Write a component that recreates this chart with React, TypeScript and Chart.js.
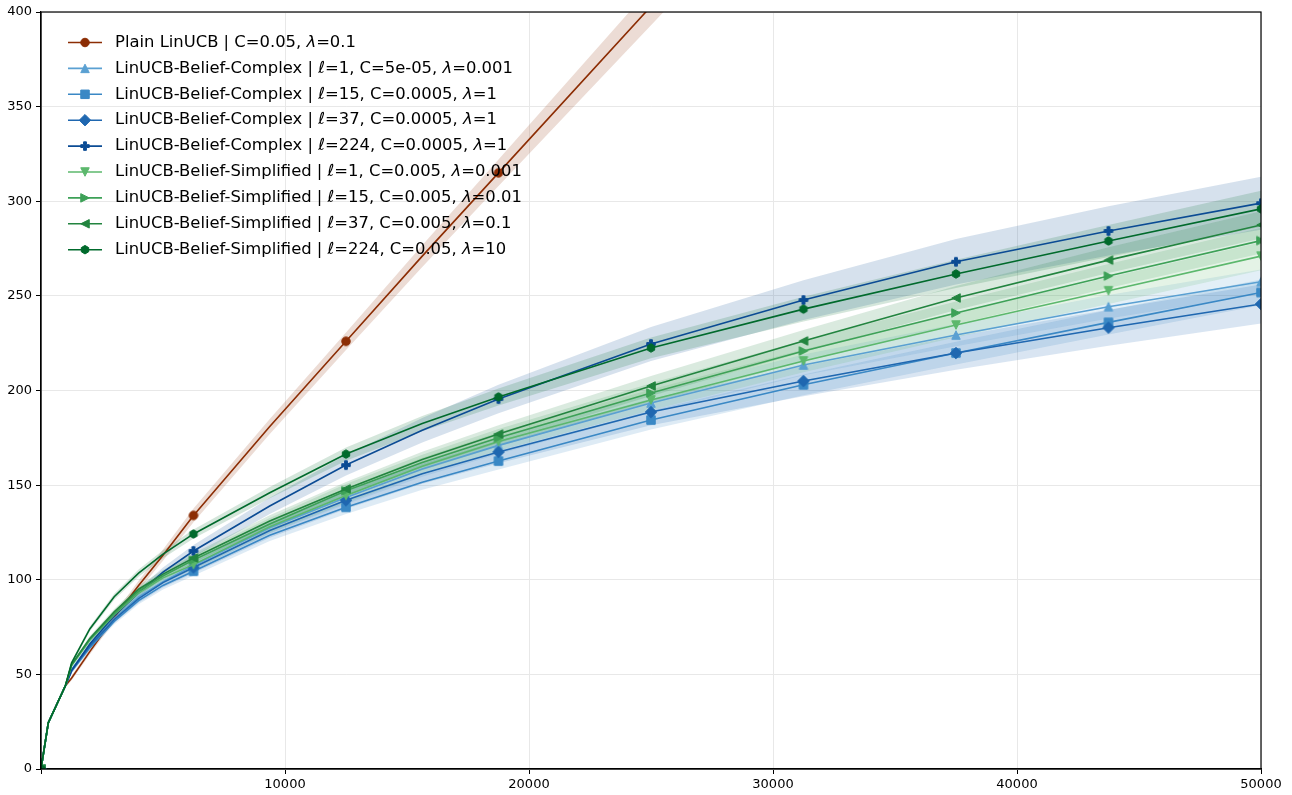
import React, { useEffect, useRef } from 'react';
import { Chart, registerables } from 'chart.js';

Chart.register(...registerables);

// ---------- data ----------
const X = [0, 300, 1000, 1250, 2000, 3000, 4000, 5000, 6250, 9375, 12500, 15625, 18750, 25000, 31250, 37500, 43750, 50000];
const MARK_X = [0, 6250, 12500, 18750, 25000, 31250, 37500, 43750, 50000];
const X_STEP = 10000;
const Y_STEP = 50;

const LABELS = [
  'Plain LinUCB | C=0.05, λ=0.1',
  'LinUCB-Belief-Complex | ℓ=1, C=5e-05, λ=0.001',
  'LinUCB-Belief-Complex | ℓ=15, C=0.0005, λ=1',
  'LinUCB-Belief-Complex | ℓ=37, C=0.0005, λ=1',
  'LinUCB-Belief-Complex | ℓ=224, C=0.0005, λ=1',
  'LinUCB-Belief-Simplified | ℓ=1, C=0.005, λ=0.001',
  'LinUCB-Belief-Simplified | ℓ=15, C=0.005, λ=0.01',
  'LinUCB-Belief-Simplified | ℓ=37, C=0.005, λ=0.1',
  'LinUCB-Belief-Simplified | ℓ=224, C=0.05, λ=10',
];

const plain = [0, 24.5, 44, 48, 62, 80, 97, 113, 134, 181, 226, 271, 315, 403, 490, 576, 661, 746];
const complex1 = [0, 24.5, 44, 52.5, 65.5, 79.5, 91, 99, 107.5, 127.5, 143.5, 158.5, 171, 193.4, 213.5, 229.3, 244.3, 257.5];
const complex15 = [0, 24.5, 44, 51.5, 64, 78, 89, 97, 104.5, 123.5, 138.3, 151.5, 162.7, 184.4, 203, 219.8, 236, 251.8];
const complex37 = [0, 24.5, 44, 52, 65, 79, 90, 98.5, 106.5, 126, 142, 156, 167.5, 188.6, 205, 219.8, 233.2, 245.7];
const complex224 = [0, 24.5, 44, 52, 66, 81, 93, 104, 115.2, 139, 160.6, 179, 195.5, 224.6, 247.8, 268, 284.3, 299];
const simp1 = [0, 24.5, 44, 54.5, 68, 81.5, 93, 101, 108, 128, 144.5, 160, 173, 195, 215.6, 234.6, 252.7, 271];
const simp15 = [0, 24.5, 44, 55, 68.5, 82, 94, 102, 110.4, 129.5, 147, 162, 175, 198.7, 220.9, 241, 260.5, 279.2];
const simp37 = [0, 24.5, 44, 55, 69, 83, 95, 103, 111.5, 131, 148, 163.5, 177, 202.4, 226.2, 248.9, 268.9, 287.5];
const simp224 = [0, 24.5, 44, 56, 74, 91, 103.5, 113.5, 124.2, 146, 166.4, 182.5, 196.6, 222.5, 243, 261.6, 279, 296];

const plainStd = [0, 0.5, 1, 1.2, 1.5, 2, 2.5, 3, 3.6, 4, 4.6, 5.8, 7, 10, 12, 14, 16, 18];
const complex1Std = [0, 0.3, 0.8, 1, 1.3, 1.6, 1.9, 2.2, 2.5, 3.1, 3.6, 4.1, 4.6, 5.1, 5.5, 5.9, 6.2, 6.5];
const complex15Std = [0, 0.3, 0.8, 1, 1.3, 1.6, 1.9, 2.1, 2.4, 3, 3.5, 4, 4.5, 5, 5.5, 6, 6.4, 6.8];
const complex37Std = [0, 0.3, 0.8, 1, 1.4, 1.8, 2.2, 2.6, 3, 3.8, 4.6, 5.3, 6, 7, 8, 8.8, 9.5, 10.3];
const complex224Std = [0, 0.3, 0.8, 1, 1.3, 1.7, 2.1, 2.5, 3.2, 4.3, 5.5, 6.5, 7.5, 9, 10.5, 12, 13, 14];
const simp1Std = [0, 0.3, 0.8, 1, 1.3, 1.7, 2, 2.3, 2.6, 3.3, 3.9, 4.4, 4.9, 5.5, 6, 6.5, 7, 7.4];
const simp15Std = [0, 0.3, 0.8, 1, 1.3, 1.6, 1.9, 2.2, 2.5, 3.1, 3.6, 4.1, 4.6, 5.1, 5.6, 6, 6.4, 6.8];
const simp37Std = [0, 0.3, 0.8, 1, 1.3, 1.6, 1.9, 2.2, 2.5, 3.1, 3.7, 4.2, 4.7, 5.3, 5.8, 6.3, 6.8, 7.2];
const simp224Std = [0, 0.3, 0.8, 1, 1.3, 1.6, 1.9, 2.1, 2.4, 3, 3.5, 4, 4.5, 5.5, 6.5, 7.5, 8.5, 9.5];

const SERIES = [plain, complex1, complex15, complex37, complex224, simp1, simp15, simp37, simp224];
const STDS = [plainStd, complex1Std, complex15Std, complex37Std, complex224Std, simp1Std, simp15Std, simp37Std, simp224Std];
const COLORS = ['#8c2d04', '#5aa0d2', '#3a88c5', '#1f67b0', '#0b4b94', '#5cb86d', '#3da157', '#22843f', '#006a2c'];
const MARKERS = ['circle', 'triUp', 'square', 'diamond', 'plus', 'triDown', 'triRight', 'triLeft', 'hexagon'];

// ---------- helpers ----------
function rgba(hex: string, a: number) {
  const n = parseInt(hex.slice(1), 16);
  return `rgba(${(n >> 16) & 255},${(n >> 8) & 255},${n & 255},${a})`;
}

const MS = 8.5;

function drawMarker(ctx: CanvasRenderingContext2D, kind: string, x: number, y: number, color: string) {
  const h = MS / 2;
  ctx.save();
  ctx.translate(x, y);
  ctx.fillStyle = color;
  ctx.strokeStyle = color;
  ctx.lineWidth = 1;
  ctx.lineJoin = 'miter';
  ctx.beginPath();
  const tri = (rot: number) => {
    ctx.rotate(rot);
    ctx.moveTo(0, -h);
    ctx.lineTo(h, h);
    ctx.lineTo(-h, h);
    ctx.closePath();
  };
  switch (kind) {
    case 'circle':
      ctx.arc(0, 0, h, 0, Math.PI * 2);
      break;
    case 'triUp':
      tri(0);
      break;
    case 'triDown':
      tri(Math.PI);
      break;
    case 'triRight':
      tri(Math.PI / 2);
      break;
    case 'triLeft':
      tri(-Math.PI / 2);
      break;
    case 'square':
      ctx.rect(-h, -h, MS, MS);
      break;
    case 'diamond': {
      const d = h * Math.SQRT2 * 0.95;
      ctx.moveTo(0, -d);
      ctx.lineTo(d, 0);
      ctx.lineTo(0, d);
      ctx.lineTo(-d, 0);
      ctx.closePath();
      break;
    }
    case 'plus': {
      const a = h;
      const w = MS / 6;
      ctx.moveTo(-w, -a);
      ctx.lineTo(w, -a);
      ctx.lineTo(w, -w);
      ctx.lineTo(a, -w);
      ctx.lineTo(a, w);
      ctx.lineTo(w, w);
      ctx.lineTo(w, a);
      ctx.lineTo(-w, a);
      ctx.lineTo(-w, w);
      ctx.lineTo(-a, w);
      ctx.lineTo(-a, -w);
      ctx.lineTo(-w, -w);
      ctx.closePath();
      break;
    }
    case 'hexagon':
      for (let k = 0; k < 6; k++) {
        const ang = -Math.PI / 2 + (k * Math.PI) / 3;
        const px = Math.cos(ang) * h;
        const py = Math.sin(ang) * h;
        if (k === 0) ctx.moveTo(px, py);
        else ctx.lineTo(px, py);
      }
      ctx.closePath();
      break;
  }
  ctx.fill();
  ctx.stroke();
  ctx.restore();
}

function makeMarkerImage(kind: string, color: string) {
  const c = document.createElement('canvas');
  c.width = 18;
  c.height = 18;
  const g = c.getContext('2d')!;
  drawMarker(g, kind, 9, 9, color);
  return c;
}

const FONT = "'DejaVu Sans', 'Liberation Sans', sans-serif";

const framePlugin = {
  id: 'frame',
  afterDatasetsDraw(chart: any) {
    const { ctx, chartArea } = chart;
    ctx.save();
    ctx.strokeStyle = '#000';
    ctx.lineWidth = 1.2;
    ctx.strokeRect(chartArea.left, chartArea.top, chartArea.right - chartArea.left, chartArea.bottom - chartArea.top);
    ctx.restore();
  },
};

const legendPlugin = {
  id: 'mplLegend',
  afterDraw(chart: any) {
    const { ctx, chartArea } = chart;
    const x0 = chartArea.left + 27;
    const y0 = chartArea.top + 30.5;
    const rowH = 25.9;
    ctx.save();
    LABELS.forEach((label, i) => {
      const y = y0 + i * rowH;
      ctx.strokeStyle = COLORS[i];
      ctx.lineWidth = 1.6;
      ctx.beginPath();
      ctx.moveTo(x0, y);
      ctx.lineTo(x0 + 34, y);
      ctx.stroke();
      drawMarker(ctx, MARKERS[i], x0 + 17, y, COLORS[i]);
      let tx = x0 + 47;
      ctx.fillStyle = '#000';
      ctx.textBaseline = 'middle';
      ctx.textAlign = 'left';
      const parts = label.split(/([ℓλ])/);
      for (const p of parts) {
        if (!p) continue;
        const it = p === 'ℓ' || p === 'λ';
        ctx.font = `${it ? 'italic ' : ''}16.4px ${FONT}`;
        ctx.fillText(p, tx, y);
        tx += ctx.measureText(p).width;
      }
    });
    ctx.restore();
  },
};

export default function App() {
  const ref = useRef<HTMLCanvasElement>(null);

  useEffect(() => {
    const canvas = ref.current;
    if (!canvas) return;
    Chart.defaults.font.family = FONT;

    const images = MARKERS.map((m, i) => makeMarkerImage(m, COLORS[i]));
    const datasets: any[] = [];

    SERIES.forEach((vals, i) => {
      const std = STDS[i];
      const ord = 100 + (SERIES.length - i) * 2;
      datasets.push({
        data: X.map((x, k) => ({ x, y: vals[k] + std[k] })),
        borderColor: 'transparent',
        borderWidth: 0,
        pointRadius: 0,
        fill: false,
        order: ord,
      });
      datasets.push({
        data: X.map((x, k) => ({ x, y: vals[k] - std[k] })),
        borderColor: 'transparent',
        borderWidth: 0,
        pointRadius: 0,
        fill: '-1',
        backgroundColor: rgba(COLORS[i], 0.17),
        order: ord,
      });
    });

    SERIES.forEach((vals, i) => {
      datasets.push({
        data: X.map((x, k) => ({ x, y: vals[k] })),
        borderColor: COLORS[i],
        backgroundColor: COLORS[i],
        borderWidth: 1.6,
        fill: false,
        tension: 0,
        pointStyle: images[i],
        pointRadius: (c: any) => (MARK_X.includes(X[c.dataIndex]) ? 4 : 0),
        pointHoverRadius: 0,
        order: SERIES.length - 1 - i,
      });
    });

    const tickFont = { size: 13, family: FONT };

    const chart = new Chart(canvas, {
      type: 'line',
      data: { datasets },
      options: {
        responsive: false,
        animation: false,
        events: [],
        layout: { padding: { left: 0, top: 12, right: 31, bottom: 0 } },
        plugins: {
          legend: { display: false },
          tooltip: { enabled: false },
        },
        scales: {
          x: {
            type: 'linear',
            min: 0,
            max: 50000,
            afterFit: (s: any) => {
              s.height = 26;
            },
            ticks: {
              stepSize: X_STEP,
              callback: (v: any) => (v === 0 ? '' : String(v)),
              font: tickFont,
              color: '#000',
              padding: 3,
              maxRotation: 0,
              autoSkip: false,
            },
            grid: { color: '#e8e8e8', tickColor: '#000', tickLength: 5, lineWidth: 1 },
            border: { color: '#000', width: 1.2 },
          },
          y: {
            type: 'linear',
            min: 0,
            max: 400,
            afterFit: (s: any) => {
              s.width = 41;
            },
            ticks: {
              stepSize: Y_STEP,
              callback: (v: any) => String(v),
              font: tickFont,
              color: '#000',
              padding: 4,
            },
            grid: { color: '#e8e8e8', tickColor: '#000', tickLength: 5, lineWidth: 1 },
            border: { color: '#000', width: 1.2 },
          },
        },
      } as any,
      plugins: [framePlugin, legendPlugin],
    });

    return () => chart.destroy();
  }, []);

  return (
    <div style={{ position: 'fixed', left: 0, top: 0, width: 1292, height: 795, background: '#fff' }}>
      <canvas ref={ref} width={1292} height={795} style={{ display: 'block' }} />
    </div>
  );
}
